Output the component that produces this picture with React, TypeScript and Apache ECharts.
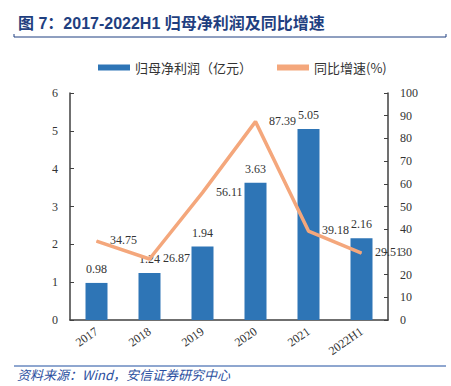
import React, { useEffect, useRef } from "react";
import * as echarts from "echarts";

const categories = ["2017", "2018", "2019", "2020", "2021", "2022H1"];
const profit = [0.98, 1.24, 1.94, 3.63, 5.05, 2.16];
const growth = [34.75, 26.87, 56.11, 87.39, 39.18, 29.51];
const seriesNames = ["归母净利润（亿元）", "同比增速(%)"];
const titleText = "图 7：2017-2022H1 归母净利润及同比增速";
const sourceText = "资料来源：Wind，安信证券研究中心";

export default function App() {
  const ref = useRef<HTMLDivElement>(null);
  useEffect(() => {
    if (!ref.current) return;
    const chart = echarts.init(ref.current, undefined, { renderer: "svg" });
    const serif = "'Liberation Serif', 'Times New Roman', serif";
    const axisColor = "#404040";
    chart.setOption({
      animation: false,
      backgroundColor: "#ffffff",
      legend: {
        top: 56,
        left: 93,
        itemGap: 25,
        itemWidth: 32,
        itemHeight: 6,
        textStyle: { fontSize: 13, color: "#333", fontFamily: "'Noto Sans CJK SC', sans-serif" },
        data: [
          { name: seriesNames[0], icon: "rect" },
          { name: seriesNames[1], icon: "rect" },
        ],
      },
      grid: { left: 70, right: 63, top: 93, bottom: 66, containLabel: false },
      xAxis: {
        type: "category",
        data: categories,
        axisLine: { lineStyle: { color: axisColor, width: 1.5 } },
        axisTick: { inside: true, length: 4, lineStyle: { color: axisColor } },
        axisLabel: { rotate: 35, fontFamily: serif, fontSize: 12, color: "#333", margin: 10 },
      },
      yAxis: [
        {
          type: "value",
          min: 0,
          max: 6,
          interval: 1,
          splitLine: { show: false },
          axisLine: { show: true, lineStyle: { color: axisColor, width: 1.5 } },
          axisTick: { show: true, inside: true, length: 4, lineStyle: { color: axisColor } },
          axisLabel: { fontFamily: serif, fontSize: 12, color: "#333", margin: 12 },
        },
        {
          type: "value",
          min: 0,
          max: 100,
          interval: 10,
          splitLine: { show: false },
          axisLine: { show: true, lineStyle: { color: axisColor, width: 1.5 } },
          axisTick: { show: true, inside: true, length: 4, lineStyle: { color: axisColor } },
          axisLabel: { fontFamily: serif, fontSize: 12, color: "#333", margin: 12 },
        },
      ],
      series: [
        {
          name: seriesNames[0],
          type: "bar",
          data: profit,
          barWidth: 22,
          itemStyle: { color: "#2E75B6" },
          label: {
            show: true,
            position: "top",
            distance: 8,
            fontFamily: serif,
            fontSize: 12,
            color: "#333",
          },
        },
        {
          name: seriesNames[1],
          type: "line",
          yAxisIndex: 1,
          data: growth,
          symbol: "circle",
          symbolSize: 1,
          showSymbol: true,
          lineStyle: { color: "#F4A77C", width: 3.5 },
          itemStyle: { color: "#F4A77C" },
          label: {
            show: true,
            position: "right",
            distance: 13,
            offset: [0, -1],
            fontFamily: serif,
            fontSize: 12,
            color: "#333",
          },
        },
      ],
      graphic: [
        {
          type: "text",
          left: 18,
          top: 15,
          style: {
            text: titleText,
            fontSize: 16,
            fontWeight: "bold",
            fill: "#1F3F80",
            fontFamily: "'Liberation Sans', 'Noto Sans CJK SC', sans-serif",
          },
        },
        {
          type: "line",
          shape: { x1: 14, y1: 37, x2: 446, y2: 37 },
          style: { stroke: "#1F3F80", lineWidth: 1 },
        },
        {
          type: "line",
          shape: { x1: 14, y1: 34, x2: 14, y2: 37 },
          style: { stroke: "#1F3F80", lineWidth: 1 },
        },
        {
          type: "line",
          shape: { x1: 446, y1: 34, x2: 446, y2: 37 },
          style: { stroke: "#1F3F80", lineWidth: 1 },
        },
        {
          type: "line",
          shape: { x1: 14, y1: 366, x2: 446, y2: 366 },
          style: { stroke: "#1F4FA0", lineWidth: 1 },
        },
        {
          type: "text",
          left: 17,
          top: 368,
          style: {
            text: sourceText,
            fontSize: 13,
            fontStyle: "italic",
            fill: "#2B4FA0",
            fontFamily: "'Noto Sans CJK SC', sans-serif",
          },
        },
      ],
    });
    return () => chart.dispose();
  }, []);
  return <div ref={ref} style={{ width: 451, height: 386, position: "absolute", left: 0, top: 0 }} />;
}
